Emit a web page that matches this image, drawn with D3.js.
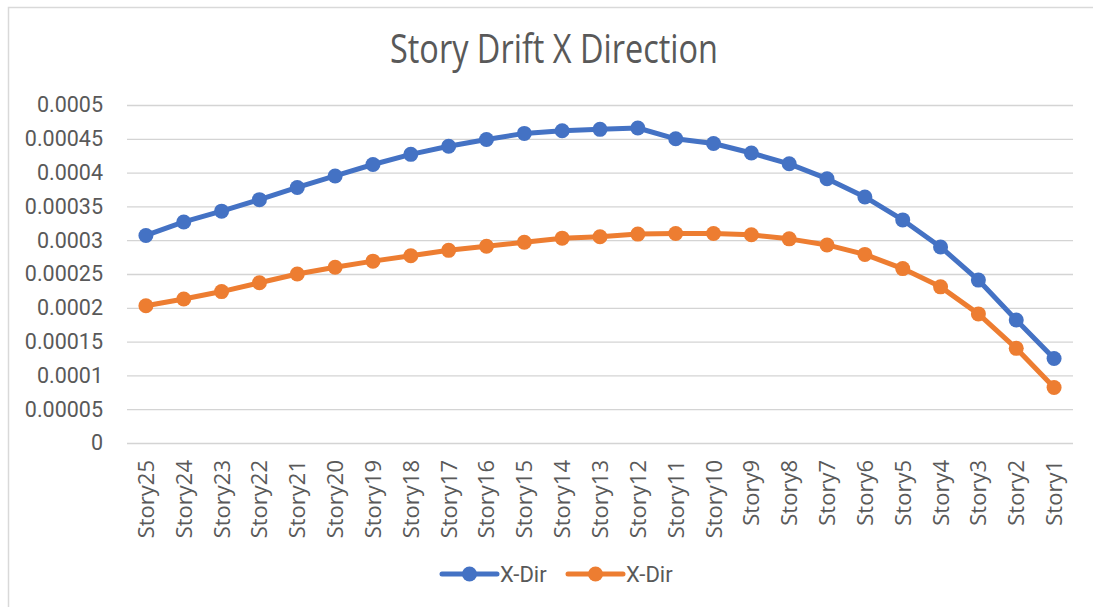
<!DOCTYPE html>
<html>
<head>
<meta charset="utf-8">
<script src="https://cdn.jsdelivr.net/npm/d3@7"></script>
<style>
  html, body { margin: 0; padding: 0; background: #fff; }
  svg { display: block; }
</style>
</head>
<body>
<svg id="chart" width="1093" height="607"></svg>
<script>
const title = "Story Drift X Direction";
const categories = ["Story25","Story24","Story23","Story22","Story21","Story20","Story19","Story18","Story17","Story16","Story15","Story14","Story13","Story12","Story11","Story10","Story9","Story8","Story7","Story6","Story5","Story4","Story3","Story2","Story1"];
const seriesNames = ["X-Dir", "X-Dir"];
const seriesA = [0.000307,0.000327,0.000343,0.00036,0.000378,0.000395,0.000412,0.000427,0.000439,0.000449,0.000458,0.000462,0.000464,0.000466,0.00045,0.000443,0.000429,0.000413,0.000391,0.000364,0.00033,0.00029,0.000241,0.000182,0.000125];
const seriesB = [0.000203,0.000213,0.000224,0.000237,0.00025,0.00026,0.000269,0.000277,0.000285,0.000291,0.000297,0.000303,0.000305,0.000309,0.00031,0.00031,0.000308,0.000302,0.000293,0.000279,0.000258,0.000231,0.000191,0.00014,0.000082];
const yTicks = [0,0.00005,0.0001,0.00015,0.0002,0.00025,0.0003,0.00035,0.0004,0.00045,0.0005];
const yTickLabels = ["0","0.00005","0.0001","0.00015","0.0002","0.00025","0.0003","0.00035","0.0004","0.00045","0.0005"];
const colors = ["#4472C4", "#ED7D31"];

const svg = d3.select("#chart");
const textColor = "#595959";

// chart border (left/top visible)
svg.append("rect").attr("x", 8.5).attr("y", 7.5).attr("width", 1200).attr("height", 700)
  .attr("fill", "none").attr("stroke", "#d9d9d9").attr("stroke-width", 1.5);

const plot = {left: 127, right: 1073, top: 105, bottom: 443};

const x = d3.scaleBand().domain(categories).range([plot.left, plot.right]).paddingInner(0).paddingOuter(0);
const y = d3.scaleLinear().domain([0, 0.0005]).range([plot.bottom, plot.top]);

// gridlines
const yAxis = d3.axisLeft(y).tickValues(yTicks).tickSize(-(plot.right - plot.left))
  .tickFormat((d, i) => yTickLabels[i]).tickPadding(24);
const gy = svg.append("g").attr("transform", `translate(${plot.left},0)`).call(yAxis);
gy.select(".domain").remove();
gy.selectAll(".tick line").attr("stroke", "#d4d4d4").attr("stroke-width", 1.3);
gy.selectAll(".tick text").attr("fill", textColor).attr("font-family", "Roboto, 'Open Sans', sans-serif")
  .attr("font-size", 21.5);

// x axis
const xAxis = d3.axisBottom(x).tickSize(0).tickPadding(0);
const gx = svg.append("g").attr("transform", `translate(0,${plot.bottom})`).call(xAxis);
gx.select(".domain").remove();
gx.selectAll(".tick text")
  .attr("fill", textColor)
  .attr("font-family", "'Open Sans', sans-serif")
  .attr("font-size", 22)
  .attr("text-anchor", "end")
  .attr("dy", null)
  .attr("transform", "translate(8,17) rotate(-90)")
  .attr("x", 0).attr("y", 0);

// title
svg.append("text").attr("x", 554).attr("y", 63).attr("text-anchor", "middle")
  .attr("fill", textColor)
  .attr("font-family", "'Liberation Sans Narrow', 'Open Sans', sans-serif")
  .attr("font-size", 40)
  .attr("textLength", 328).attr("lengthAdjust", "spacingAndGlyphs")
  .text(title);

const cx = d => x(d) + x.bandwidth() / 2;
const data = [seriesA, seriesB];
const line = d3.line().x((d, i) => cx(categories[i])).y(d => y(d));

data.forEach((s, k) => {
  svg.append("path").datum(s).attr("d", line).attr("fill", "none")
    .attr("stroke", colors[k]).attr("stroke-width", 5).attr("stroke-linejoin", "round").attr("stroke-linecap", "round");
  svg.append("g").selectAll("circle").data(s).join("circle")
    .attr("cx", (d, i) => cx(categories[i])).attr("cy", d => y(d)).attr("r", 7.5)
    .attr("fill", colors[k]);
});

// legend
const legendItems = [{x: 442, name: seriesNames[0], c: colors[0]}, {x: 568, name: seriesNames[1], c: colors[1]}];
const ly = 574;
legendItems.forEach(it => {
  const g = svg.append("g");
  g.append("line").attr("x1", it.x).attr("x2", it.x + 55).attr("y1", ly).attr("y2", ly)
    .attr("stroke", it.c).attr("stroke-width", 5).attr("stroke-linecap", "round");
  g.append("circle").attr("cx", it.x + 27.5).attr("cy", ly).attr("r", 7.5).attr("fill", it.c);
  g.append("text").attr("x", it.x + 58).attr("y", ly + 7.5).attr("fill", textColor)
    .attr("font-family", "Roboto, 'Open Sans', sans-serif").attr("font-size", 22).text(it.name);
});
</script>
</body>
</html>
